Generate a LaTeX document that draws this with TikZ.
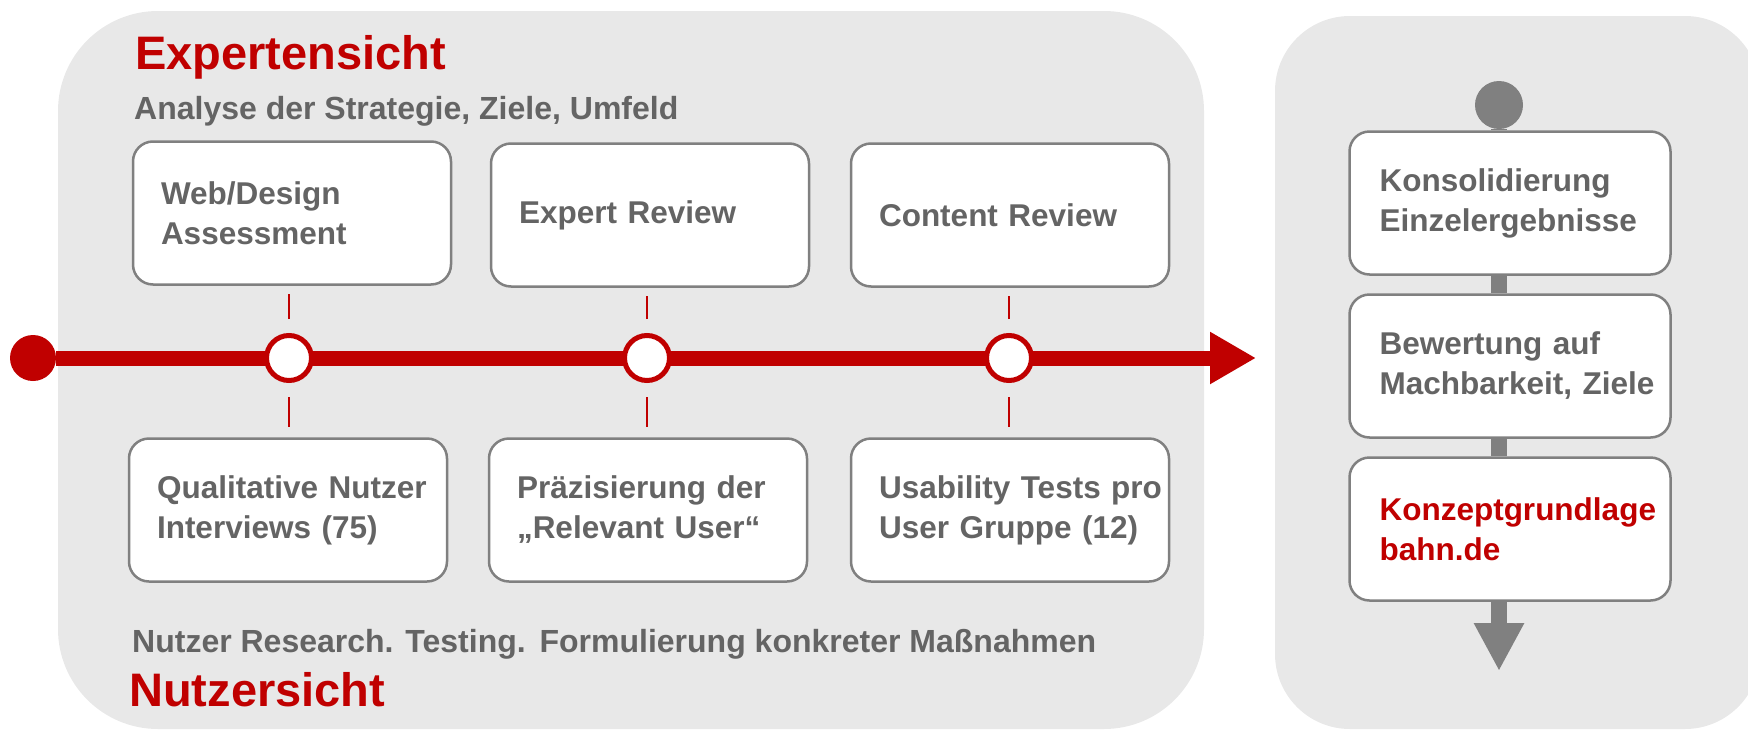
\documentclass[tikz,border=0pt]{standalone}
\usepackage{fontspec}
\setmainfont{Liberation Sans}
\usepackage{tikz}
\usetikzlibrary{arrows.meta}

\definecolor{dbred}{RGB}{192,0,0}
\definecolor{txtgrey}{RGB}{100,100,100}
\definecolor{linegrey}{RGB}{128,128,128}
\definecolor{panelgrey}{RGB}{232,232,232}

\tikzset{
    stepbox/.style={draw=linegrey, line width=2.5pt, fill=white, rounded corners=20pt,
        minimum height=143pt, text width=#1, inner xsep=0pt, inner ysep=0pt, align=left,
        text=txtgrey, font=\fontsize{31.5}{40}\selectfont\bfseries,
        execute at begin node={\leftskip=28pt}},
    stepbox/.default=318pt,
    headline/.style={anchor=base west, inner sep=0pt, text=dbred, font=\fontsize{47}{52}\selectfont\bfseries},
    subline/.style={anchor=base west, inner sep=0pt, text=txtgrey, font=\fontsize{32}{36}\selectfont\bfseries},
    milestone/.style={circle, draw=dbred, line width=5pt, fill=white, minimum size=45pt, inner sep=0pt},
    tick/.style={draw=dbred, line width=2pt},
    timeline/.style={draw=dbred, line width=15pt, -{Triangle[length=46pt, width=49pt]}},
    flow/.style={draw=linegrey, line width=16pt}
}

\begin{document}
\begin{tikzpicture}[x=1pt, y=-1pt]
    \useasboundingbox (0, 0) rectangle (1748, 731);

    % panels
    \fill[panelgrey, rounded corners=100pt] (58, 11) rectangle (1204, 729);
    \fill[panelgrey, rounded corners=75pt] (1275, 16) rectangle (1760, 729);

    \node[headline] at (135, 69) (expert) {Expertensicht};
    \node[subline] at (134, 119) (analyse) {Analyse der Strategie, Ziele, Umfeld};
    \node[subline] at (132, 652) (research) {Nutzer Research. Testing.\hspace{2pt} Formulierung konkreter Maßnahmen};
    \node[headline] at (129, 706) (nutzer) {Nutzersicht};

    \node[stepbox] at (292, 213) (e1) {Web/Design\\Assessment};
    \node[stepbox] at (650, 215) (e2) {Expert Review};
    \node[stepbox] at (1010, 215) (e3) {Content Review};

    \node[stepbox] at (288, 510) (n1) {Qualitative Nutzer\\Interviews (75)};
    \node[stepbox] at (648, 510) (n2) {Präzisierung der\\„Relevant User“};
    \node[stepbox] at (1010, 510) (n3) {Usability Tests pro\\User Gruppe (12)};

    % timeline
    \node[circle, fill=dbred, minimum size=46pt, inner sep=0pt] at (33, 358) (start) {};
    \coordinate (tip) at (1256, 358);
    \draw[timeline] (start) -- (tip);

    \node[milestone] at (289, 358) (m1) {};
    \node[milestone] at (647, 358) (m2) {};
    \node[milestone] at (1009, 358) (m3) {};

    \foreach \i in {1,2,3} {
        \draw[tick, shorten <=14pt, shorten >=8pt] (m\i) -- (m\i |- e\i.south);
        \draw[tick, shorten <=14pt, shorten >=10pt] (m\i) -- (m\i |- n\i.north);
    }

    % consolidation
    \node[stepbox=321pt, execute at begin node={\leftskip=30pt}] at (1510, 203) (k1) {Konsolidierung\\Einzelergebnisse};
    \node[stepbox=321pt, execute at begin node={\leftskip=30pt}] at (1510, 366) (k2) {Bewertung auf\\Machbarkeit, Ziele};
    \node[stepbox=321pt, execute at begin node={\leftskip=30pt}, text=dbred] at (1510, 529) (k3) {Konzeptgrundlage\\bahn.de};

    \node[circle, fill=linegrey, minimum size=48pt, inner sep=0pt] at (1499, 105) (gdot) {};
    \coordinate (gend) at (1499, 671);

    \draw[flow] (gdot) -- (gdot |- k1.north);
    \draw[flow] (k1.south -| gdot) -- (k2.north -| gdot);
    \draw[flow] (k2.south -| gdot) -- (k3.north -| gdot);
    \draw[flow, -{Triangle[length=48pt, width=47pt]}] (k3.south -| gdot) -- (gend);
\end{tikzpicture}
\end{document}
